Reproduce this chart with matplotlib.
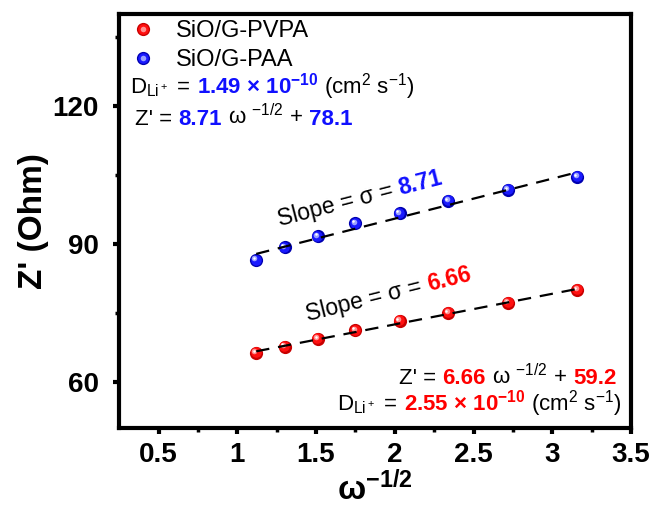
import numpy as np
import matplotlib
matplotlib.use('Agg')
import matplotlib.pyplot as plt
import matplotlib.transforms as mtransforms
from matplotlib.lines import Line2D
from matplotlib.legend_handler import HandlerTuple

plt.rcParams['font.family'] = ['Liberation Sans', 'DejaVu Sans']
plt.rcParams['mathtext.fontset'] = 'custom'
plt.rcParams['mathtext.rm'] = 'Liberation Sans'
plt.rcParams['mathtext.bf'] = 'Liberation Sans:bold'
plt.rcParams['mathtext.default'] = 'regular'

# data
w_inv_sqrt = [1.12, 1.30, 1.51, 1.75, 2.03, 2.34, 2.72, 3.16]
z_pvpa = [66.3, 67.7, 69.4, 71.2, 73.3, 75.0, 77.2, 80.0]
z_paa = [86.5, 89.3, 91.7, 94.5, 96.7, 99.4, 101.8, 104.6]
fit_pvpa = (6.66, 59.2)
fit_paa = (8.71, 78.1)
labels = ['SiO/G-PVPA', 'SiO/G-PAA']

RED = '#ff0000'
BLUE = '#1010ff'

fig = plt.figure(figsize=(6.52, 5.07), dpi=100)
ax = fig.add_axes([0.1828, 0.156, 0.785, 0.816])

# fake 3D ball: dark rim, main body, highlight shifted up-left
BALL = [(9.5, 0, 0, 0), (7.6, 1, -0.6, 0.6), (4.0, 2, -1.7, 1.7), (1.8, 3, -2.1, 2.1)]


def sphere(x, y, cols):
    for ms, ci, dx, dy in BALL:
        tr = mtransforms.offset_copy(ax.transData, fig=fig, x=dx, y=dy, units='dots')
        ax.plot(x, y, 'o', ms=ms, color=cols[ci], mec='none', transform=tr, zorder=3)


red_cols = ['#c80000', '#ff1010', '#ff9090', 'white']
blue_cols = ['#0000b0', '#1a1aff', '#9aa0ff', 'white']
sphere(w_inv_sqrt, z_pvpa, red_cols)
sphere(w_inv_sqrt, z_paa, blue_cols)

xs = np.array([min(w_inv_sqrt), max(w_inv_sqrt)])
for k, b in (fit_pvpa, fit_paa):
    ax.plot(xs, k * xs + b, color='black', lw=1.6, dashes=(6, 4), zorder=4)

ax.set_xlim(0.25, 3.5)
ax.set_ylim(50, 140)
ax.set_xticks([0.5, 1, 1.5, 2, 2.5, 3, 3.5])
ax.set_xticklabels(['0.5', '1', '1.5', '2', '2.5', '3', '3.5'])
ax.set_xticks(np.arange(0.75, 3.5, 0.5), minor=True)
ax.set_yticks([60, 90, 120])
ax.set_yticks([75, 105, 135], minor=True)
for s in ax.spines.values():
    s.set_linewidth(3)
ax.tick_params(which='major', direction='out', length=4.5, width=3, labelsize=20)
ax.tick_params(axis='x', which='major', pad=5.5)
ax.tick_params(axis='y', which='major', pad=10)
ax.tick_params(which='minor', direction='out', length=3, width=2.5)
for t in ax.get_xticklabels() + ax.get_yticklabels():
    t.set_fontweight('bold')

ax.set_xlabel(r'ω$^{-1/2}$', fontsize=24, fontweight='bold', labelpad=2)
ax.set_ylabel("Z' (Ohm)", fontsize=24, fontweight='bold', labelpad=3)


def ball_handle(cols):
    return (Line2D([], [], marker='o', ls='', ms=9.5, color=cols[0], mec='none'),
            Line2D([], [], marker='o', ls='', ms=7.6, color=cols[1], mec='none'),
            Line2D([], [], marker='o', ls='', ms=4.0, color=cols[2], mec='none'))


ax.legend([ball_handle(red_cols), ball_handle(blue_cols)], labels,
          loc='upper left', bbox_to_anchor=(0.0, 1.0), frameon=False,
          fontsize=17, handlelength=1.5, handletextpad=0.65,
          labelspacing=0.3, borderaxespad=0.0, borderpad=0.25,
          handler_map={tuple: HandlerTuple(ndivide=1)})

renderer = fig.canvas.get_renderer()


def rich(x, y, parts, ha='left', rot=0, size=16):
    # parts: (text, color, weight); spaces at ends are turned into gaps
    space = size * 100 / 72 * 0.278
    items = []
    for s, c, w in parts:
        lead = len(s) - len(s.lstrip(' '))
        trail = len(s) - len(s.rstrip(' '))
        core = s.strip(' ')
        t = fig.text(0, 0, core, fontsize=size, fontweight=w)
        wd = t.get_window_extent(renderer).width
        t.remove()
        items.append((core, c, w, lead * space, wd, trail * space))
    total = sum(a + b + d for _, _, _, a, b, d in items)
    off = -total if ha == 'right' else 0.0
    ca, sa = np.cos(np.deg2rad(rot)), np.sin(np.deg2rad(rot))
    for core, c, w, lead, wd, trail in items:
        off += lead
        tr = mtransforms.offset_copy(ax.transData, fig=fig, x=off * ca,
                                     y=off * sa, units='dots')
        ax.text(x, y, core, transform=tr, fontsize=size, color=c, fontweight=w,
                ha='left', va='baseline', rotation=rot, rotation_mode='anchor',
                zorder=5)
        off += wd + trail


rich(0.32, 122.8, [(r'D$_{Li^+}$ = ', 'black', 'normal'),
                   (r'1.49 × 10$^{-10}$', BLUE, 'bold'),
                   (r' (cm$^2$ s$^{-1}$)', 'black', 'normal')])
rich(0.35, 116.0, [("Z' = ", 'black', 'normal'),
                   ('8.71', BLUE, 'bold'),
                   (r' ω $^{-1/2}$ + ', 'black', 'normal'),
                   ('78.1', BLUE, 'bold')])
rich(1.27, 93.8, [('Slope = σ = ', 'black', 'normal'),
                  ('8.71', BLUE, 'bold')], rot=14.5, size=16.5)
rich(1.45, 73.2, [('Slope = σ = ', 'black', 'normal'),
                  ('6.66', RED, 'bold')], rot=14, size=16.5)
rich(3.41, 59.6, [("Z' = ", 'black', 'normal'),
                  ('6.66', RED, 'bold'),
                  (r' ω $^{-1/2}$ + ', 'black', 'normal'),
                  ('59.2', RED, 'bold')], ha='right')
rich(3.44, 53.8, [(r'D$_{Li^+}$ = ', 'black', 'normal'),
                  (r'2.55 × 10$^{-10}$', RED, 'bold'),
                  (r' (cm$^2$ s$^{-1}$)', 'black', 'normal')], ha='right')

fig.savefig('out.png', dpi=100)
